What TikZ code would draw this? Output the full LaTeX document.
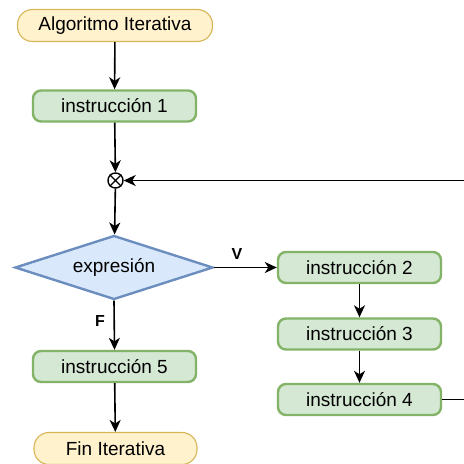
\documentclass[tikz,border=0pt]{standalone}
\usepackage{fontspec}
\setmainfont{Liberation Sans}
\usetikzlibrary{shapes.geometric,arrows.meta}
\definecolor{yfill}{HTML}{FFF2CC}\definecolor{ydraw}{HTML}{D6B656}
\definecolor{gfill}{HTML}{D5E8D4}\definecolor{gdraw}{HTML}{82B366}
\definecolor{bfill}{HTML}{DAE8FC}\definecolor{bdraw}{HTML}{6C8EBF}
\tikzset{
  terminal/.style={draw=ydraw,fill=yfill,line width=1.1pt,rounded corners=15pt,minimum width=195pt,minimum height=32pt,inner sep=0pt,font=\fontsize{19}{21}\selectfont},
  instr/.style={draw=gdraw,fill=gfill,line width=2.4pt,rounded corners=8pt,minimum width=163pt,minimum height=31pt,inner sep=0pt,font=\fontsize{19}{21}\selectfont},
  decision/.style={draw=bdraw,fill=bfill,line width=2.4pt,diamond,aspect=3.06,minimum width=198pt,minimum height=64pt,inner sep=0pt,font=\fontsize{19}{21}\selectfont},
  conn/.style={line width=1.6pt,-{Stealth[length=12pt,width=11pt,inset=3.5pt]}},
  lbl/.style={font=\bfseries\fontsize{16}{18}\selectfont},
}
\begin{document}
\begin{tikzpicture}[x=1pt,y=-1pt]
\useasboundingbox (0,0) rectangle (464,464);
\clip (0,0) rectangle (464,464);
\node[terminal] (start) at (115,25.5) {Algoritmo Iterativa};
\node[instr] (i1) at (114.5,106) {instrucción 1};
\node[draw,circle,line width=1.4pt,minimum size=15pt,inner sep=0pt] (join) at (115.5,180.5) {};
\draw[line width=1.4pt] (join.north east) -- (join.south west) (join.north west) -- (join.south east);
\node[decision] (dec) at (114,267.5) {expresión};
\node[instr] (i2) at (359.5,267.5) {instrucción 2};
\node[instr] (i3) at (359.5,334) {instrucción 3};
\node[instr] (i4) at (359.5,399.5) {instrucción 4};
\node[instr] (i5) at (114.5,366.5) {instrucción 5};
\node[terminal,minimum width=163pt] (fin) at (115.5,448.5) {Fin Iterativa};
\node[lbl] (vl) at (237,254) {V};
\node[lbl] (fl) at (100,321) {F};
\coordinate (r4) at (475,399.5);
\coordinate (r0) at (475,180.5);
\draw[conn] (start) -- (i1);
\draw[conn] (i1) -- (join);
\draw[conn] (join) -- (dec);
\draw[conn] (dec.east) -- (i2.west);
\draw[conn] (i2) -- (i3);
\draw[conn] (i3) -- (i4);
\draw[conn] (dec.south) -- (i5.north);
\draw[conn] (i5) -- (fin);
\draw[conn] (i4.east) -- (r4) -- (r0) -- (join.east);
\end{tikzpicture}
\end{document}
